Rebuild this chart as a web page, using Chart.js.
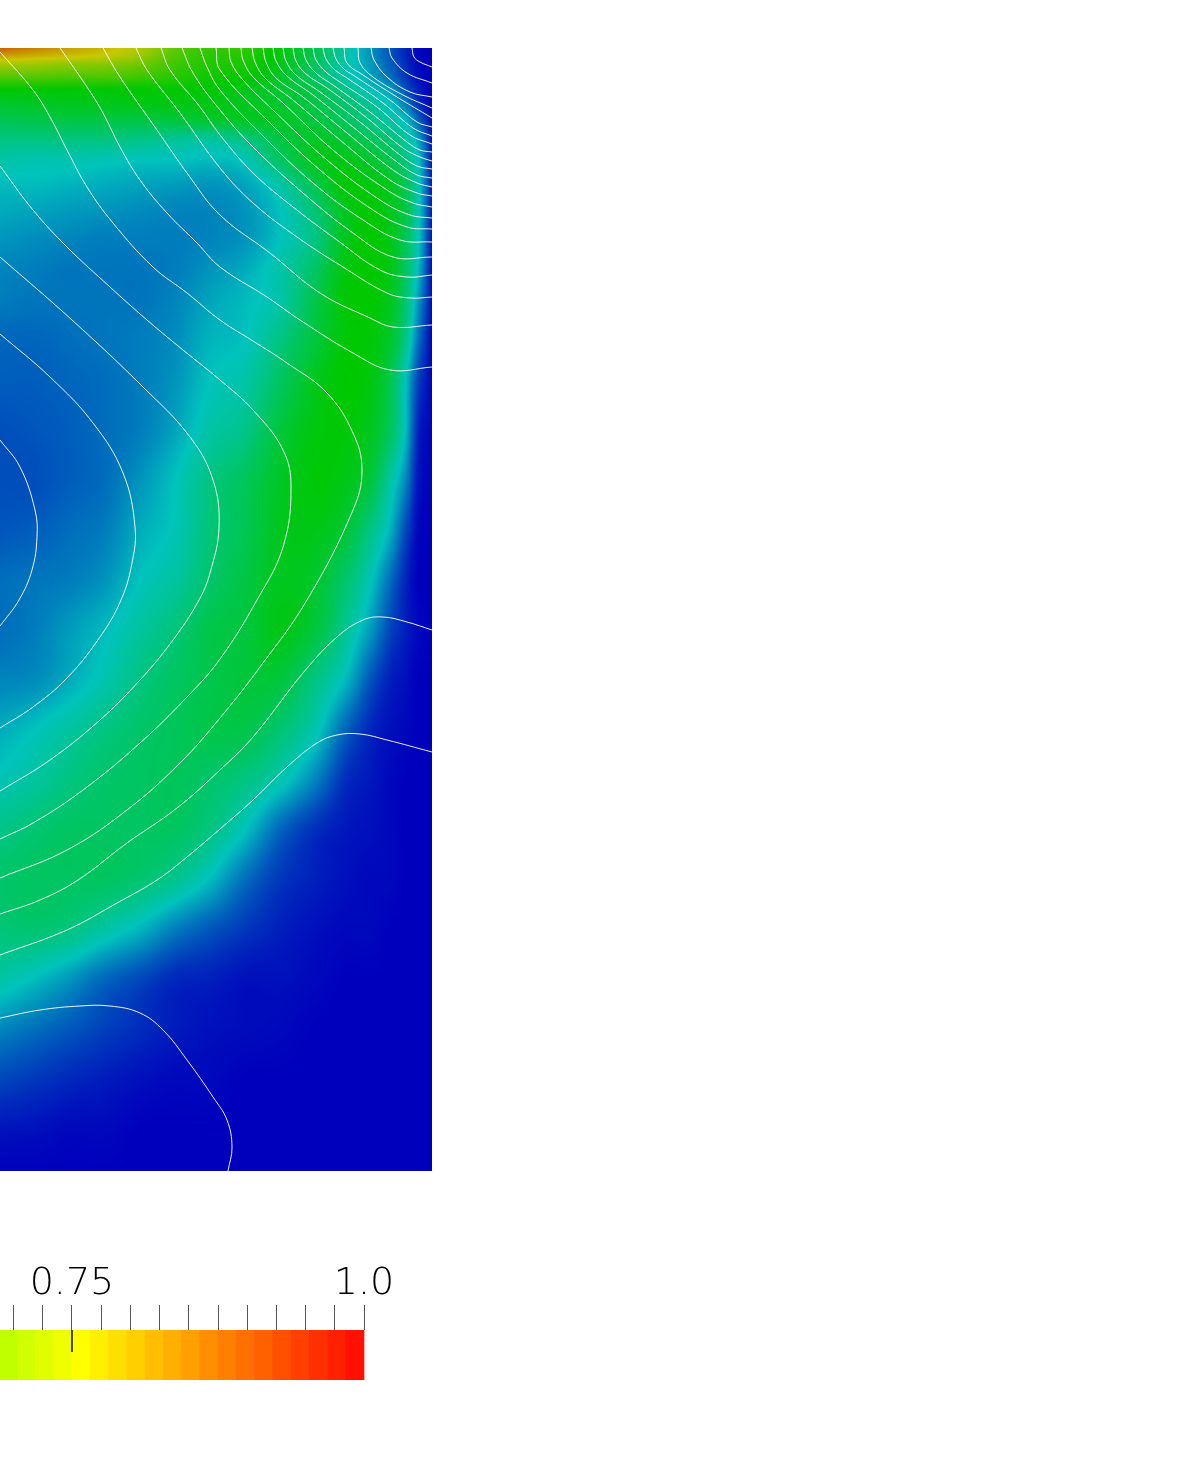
<!DOCTYPE html>
<html>
<head>
<meta charset="utf-8">
<title>Contour plot</title>
<script src="https://cdn.jsdelivr.net/npm/chart.js@4/dist/chart.umd.min.js"></script>
<style>
  html, body { margin: 0; padding: 0; background: #fff; }
  body { position: relative; width: 1196px; height: 1482px; overflow: hidden; }
  canvas { position: absolute; left: 0; display: block; }
  #field { top: 48px; }
  #legendBar { top: 1245px; }
</style>
</head>
<body>
<canvas id="field" width="432" height="1123"></canvas>
<canvas id="legendBar" width="410" height="135"></canvas>
<script>
// grid the colour field was read on: x across, depth down from the top edge
const fieldX = [0, 35, 70, 105, 140, 175, 210, 245, 280, 315, 345, 370, 390, 405, 418, 432];
const fieldDepth = [0, 8, 16, 28, 42, 57, 72, 92, 112, 137, 162, 192, 222, 252, 292, 332, 382, 432, 482, 532, 582, 632, 682, 732, 782, 832, 882, 932, 982, 1032, 1082, 1123];

// values in percent of the colour range, one row per depth
const fieldRows = [
  [88,84,80,77,72,62,57,56,49,40,29,19,11,5,1,0],
  [80,78,76,74,69,60,55,54,48,39,28,19,11,5,1,0],
  [71,70,68,67,64,58,54,53,47,38,28,20,12,6,1,0],
  [61,61,60,60,58,55,52,51,45,37,28,21,14,7,2,0],
  [50,50,50,50,50,50,49,47,44,40,33,25,20,11,4,0],
  [44,45,46,46,47,47,47,46,44,41,36,31,25,17,7,0],
  [39,40,41,41,41,42,44,45,45,42,38,33,28,24,13,1],
  [33,33,33,33,32,30,29,33,41,45,43,39,35,30,21,2],
  [28,27,27,26,25,25,24,26,37,46,47,44,40,34,25,3],
  [24,24,23,22,21,20,19,21,28,40,49,48,46,39,27,3],
  [22,21,20,19,18,17,17,19,25,35,46,50,46,41,27,3],
  [19,18,17,16,16,16,17,19,25,33,46,50,47,39,26,2],
  [17,16,15,15,15,16,19,22,28,37,48,50,47,38,24,1],
  [16,15,15,15,15,17,21,24,28,40,49,50,46,36,20,1],
  [13,13,14,15,16,18,23,25,33,42,49,49,44,33,15,0],
  [12,12,13,14,16,19,25,28,37,46,50,48,40,26,9,0],
  [10,11,12,14,16,21,28,32,42,48,49,46,38,25,5,0],
  [10,10,12,14,19,25,33,38,45,49,47,42,29,18,3,0],
  [11,12,14,16,22,26,34,39,46,47,43,33,23,10,1,0],
  [14,15,16,19,25,29,36,41,46,44,36,26,14,5,0,0],
  [14,16,20,24,29,34,40,42,47,42,31,20,9,4,1,0],
  [17,18,22,27,33,37,40,42,42,33,24,11,4,2,0,0],
  [22,25,29,33,36,38,40,40,35,27,13,5,2,1,0,0],
  [26,29,33,36,37,38,36,33,27,17,6,3,1,0,0,0],
  [32,35,37,37,37,37,33,25,13,6,3,2,1,0,0,0],
  [36,37,37,37,35,31,24,14,7,4,2,1,1,0,0,0],
  [34,35,33,28,23,16,11,7,4,2,1,1,0,0,0,0],
  [28,24,19,13,9,5,4,2,2,1,0,0,0,0,0,0],
  [17,14,11,8,5.5,3.5,2,1.5,1,0,0,0,0,0,0,0],
  [9,7,5,3.5,2,1,1,0,0,0,0,0,0,0,0,0],
  [2.5,2,1,1,0,0,0,0,0,0,0,0,0,0,0,0],
  [0,0,0,0,0,0,0,0,0,0,0,0,0,0,0,0]
];

// white isolines as [x, depth] pairs
const contourLines = [
  [[412,0],[414,9],[420,14],[432,19]],
  [[389,0],[392,10],[407,25],[432,35]],
  [[371,0],[374,12],[387,29],[410,44],[432,49]],
  [[358,0],[360,15],[373,29],[403,47],[432,60]],
  [[344,0],[347,15],[363,27],[397,49],[432,70]],
  [[333,0],[336,11],[344,21],[353,27],[390,52],[417,74],[432,79]],
  [[323,0],[326,11],[335,22],[347,30],[383,55],[413,80],[432,88]],
  [[313,0],[316,12],[326,24],[340,34],[377,59],[410,87],[432,96]],
  [[303,0],[306,12],[316,25],[333,37],[370,64],[407,94],[420,102],[432,104]],
  [[293,0],[296,13],[306,26],[327,40],[367,70],[403,100],[420,109],[432,113]],
  [[283,0],[286,13],[296,27],[320,44],[360,74],[400,107],[417,118],[432,121]],
  [[273,0],[276,13],[287,28],[313,47],[353,79],[397,114],[417,127],[432,130]],
  [[263,0],[266,14],[276,30],[303,49],[347,85],[393,122],[417,135],[432,139]],
  [[252,0],[255,14],[265,30],[293,52],[340,92],[390,132],[417,145],[432,148]],
  [[241,0],[243,12],[253,29],[283,55],[333,102],[387,142],[413,155],[432,159]],
  [[229,0],[231,14],[243,32],[273,62],[327,112],[380,152],[410,167],[432,170]],
  [[216,0],[220,22],[267,72],[320,122],[373,162],[407,179],[432,181]],
  [[200,0],[207,19],[220,42],[260,85],[313,135],[363,172],[400,192],[432,194]],
  [[182,0],[193,25],[220,62],[253,99],[303,145],[353,185],[393,209],[432,209]],
  [[161,0],[170,22],[200,59],[220,87],[253,125],[293,159],[337,192],[380,222],[407,229],[432,227]],
  [[136,0],[147,22],[180,65],[220,120],[253,155],[297,189],[343,219],[387,245],[410,250],[432,249]],
  [[103,0],[120,29],[157,82],[187,125],[220,167],[270,205],[320,245],[370,270],[393,279],[432,277]],
  [[60,0],[87,39],[103,65],[120,99],[140,132],[167,165],[197,195],[220,219],[267,249],[300,272],[353,305],[390,322],[432,319]],
  [[0,4],[33,42],[50,69],[67,102],[87,139],[113,175],[153,219],[187,245],[220,272],[253,293],[287,315],[327,345],[353,385],[362,422],[353,462],[307,552],[260,619],[220,670],[180,715],[127,762],[67,802],[0,830]],
  [[0,118],[33,162],[67,199],[110,239],[147,272],[183,302],[220,332],[253,362],[283,402],[291,439],[283,499],[257,552],[220,611],[187,649],[140,695],[83,742],[33,775],[0,791]],
  [[0,209],[72,272],[143,339],[190,389],[213,432],[219,479],[210,525],[199,552],[173,592],[140,632],[100,672],[50,712],[0,743]],
  [[0,286],[50,329],[93,375],[123,425],[135,479],[132,515],[121,552],[100,589],[67,630],[33,659],[0,680]],
  [[0,392],[20,419],[35,462],[37,489],[32,522],[19,552],[0,578]],
  [[432,582],[407,574],[383,569],[363,572],[337,589],[303,625],[253,689],[220,722],[177,760],[127,795],[78,832],[40,852],[0,866]],
  [[432,704],[387,692],[360,686],[337,687],[317,695],[287,719],[253,752],[220,781],[187,809],[157,832],[117,855],[67,882],[0,907]],
  [[0,970],[40,962],[80,958],[110,958],[140,965],[163,982],[187,1012],[213,1049],[227,1072],[232,1099],[228,1123]]
];

// colour bar: lower edge of each visible band, tick step, labelled ticks
const bandLows = [0.6875, 0.703125, 0.71875, 0.734375, 0.75, 0.765625, 0.78125, 0.796875, 0.8125, 0.828125, 0.84375, 0.859375, 0.875, 0.890625, 0.90625, 0.921875, 0.9375, 0.953125, 0.96875, 0.984375];
const bandWidth = 0.015625;
const legendLabels = { '0.75': '0.75', '1.00': '1.0' };

const barStops = [[0, 0, 255], [0, 255, 255], [0, 255, 0], [255, 255, 0], [255, 0, 0]];
const fieldStops = [[0, 0, 188], [0, 195, 188], [0, 200, 0], [200, 200, 0], [200, 0, 0]];

function colourAt(stops, v) {
  const t = Math.min(Math.max(v, 0), 0.9999) * 4;
  const i = Math.floor(t);
  const f = t - i;
  return stops[i].map((c, k) => Math.round(c + (stops[i + 1][k] - c) * f));
}

function findCell(list, value) {
  let i = 0;
  while (i < list.length - 2 && list[i + 1] <= value) i++;
  return i;
}

// smooth curve through a row or column of the table
function hermite(pos, vals, i, at) {
  const h = pos[i + 1] - pos[i];
  const t = Math.min(Math.max((at - pos[i]) / h, 0), 1);
  const prev = Math.max(i - 1, 0), next = Math.min(i + 2, pos.length - 1);
  const m0 = (vals[i + 1] - vals[prev]) / (pos[i + 1] - pos[prev]) * h;
  const m1 = (vals[next] - vals[i]) / (pos[next] - pos[i]) * h;
  const t2 = t * t, t3 = t2 * t;
  return (2 * t3 - 3 * t2 + 1) * vals[i] + (t3 - 2 * t2 + t) * m0 + (3 * t2 - 2 * t3) * vals[i + 1] + (t3 - t2) * m1;
}

// paints the value table behind the isolines, going through the chart's scales
const heatPlugin = {
  id: 'heat',
  beforeDatasetsDraw(chart) {
    const { ctx, chartArea, scales } = chart;
    const left = Math.round(chartArea.left), top = Math.round(chartArea.top);
    const w = Math.round(chartArea.right) - left, h = Math.round(chartArea.bottom) - top;
    const img = ctx.createImageData(w, h);
    const across = [];
    for (let px = 0; px < w; px++) {
      const x = scales.x.getValueForPixel(left + px + 0.5);
      const c = findCell(fieldX, x);
      across.push(fieldRows.map(row => hermite(fieldX, row, c, x)));
    }
    let n = 0;
    for (let py = 0; py < h; py++) {
      const d = scales.y.getValueForPixel(top + py + 0.5);
      const r = findCell(fieldDepth, d);
      for (let px = 0; px < w; px++) {
        const rgb = colourAt(fieldStops, hermite(fieldDepth, across[px], r, d) / 100);
        img.data[n++] = rgb[0];
        img.data[n++] = rgb[1];
        img.data[n++] = rgb[2];
        img.data[n++] = 255;
      }
    }
    ctx.putImageData(img, left, top);
  }
};

new Chart(document.getElementById('field'), {
  type: 'scatter',
  data: {
    datasets: contourLines.map(line => ({
      data: line.map(p => ({ x: p[0], y: p[1] })),
      showLine: true,
      pointRadius: 0,
      borderColor: 'rgba(255,255,255,0.92)',
      borderWidth: 1,
      tension: 0.4
    }))
  },
  options: {
    responsive: false,
    animation: false,
    layout: { padding: 0 },
    plugins: { legend: { display: false }, tooltip: { enabled: false } },
    scales: {
      x: { type: 'linear', display: false, min: 0, max: 432 },
      y: { type: 'linear', display: false, min: 0, max: 1123, reverse: true }
    }
  },
  plugins: [heatPlugin]
});

new Chart(document.getElementById('legendBar'), {
  type: 'bar',
  data: {
    datasets: [
      {
        type: 'line',
        data: [{ x: 0.75, y: 1 }, { x: 0.75, y: 0.56 }],
        borderColor: '#333',
        borderWidth: 1,
        pointRadius: 0,
        order: 0
      },
      {
        data: bandLows.map(v => ({ x: v + bandWidth / 2, y: 1 })),
        backgroundColor: bandLows.map(v => 'rgb(' + colourAt(barStops, v).join(',') + ')'),
        barPercentage: 1,
        categoryPercentage: 1,
        borderWidth: 0,
        order: 1
      }
    ]
  },
  options: {
    responsive: false,
    animation: false,
    layout: { padding: 0 },
    plugins: { legend: { display: false }, tooltip: { enabled: false } },
    scales: {
      x: {
        type: 'linear',
        position: 'top',
        offset: false,
        min: 0.68836,
        max: 1.03938,
        afterBuildTicks: axis => { axis.ticks = axis.ticks.filter(t => t.value <= 1.0001); },
        afterFit: axis => { axis.height = 85; },
        border: { display: false },
        grid: { offset: false, drawOnChartArea: false, drawTicks: true, tickLength: 25, tickColor: '#555', lineWidth: 1 },
        ticks: {
          stepSize: 0.025,
          includeBounds: false,
          autoSkip: false,
          maxRotation: 0,
          padding: -2,
          color: '#000',
          font: { family: '"DejaVu Sans"', size: 38, weight: '200' },
          callback: v => legendLabels[v.toFixed(2)] || ''
        }
      },
      y: { type: 'linear', display: false, min: 0, max: 1 }
    }
  }
});
</script>
</body>
</html>
